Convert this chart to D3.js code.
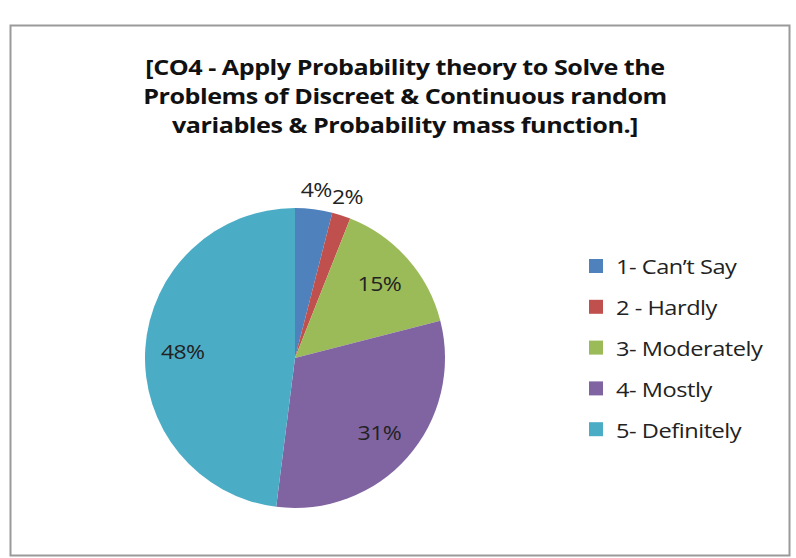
<!DOCTYPE html>
<html><head><meta charset="utf-8">
<script src="https://cdn.jsdelivr.net/npm/d3@7"></script>
<style>body{margin:0;background:#fff;} svg{display:block;}</style>
</head><body><svg id="c" width="796" height="558"></svg>
<script>
const titleLines = ["[CO4 - Apply Probability theory to Solve the","Problems of Discreet & Continuous random","variables & Probability mass function.]"];
const categories = ["1- Can\u2019t Say","2 - Hardly","3- Moderately","4- Mostly","5- Definitely"];
const values = [4, 2, 15, 31, 48];
const colors = ["#4F81BD","#C0504D","#9BBB59","#8064A2","#4BACC6"];

const svg = d3.select("#c");
const font = "'Open Sans', Lato, sans-serif";
svg.append("rect").attr("x",10.5).attr("y",25.5).attr("width",779).attr("height",530)
  .attr("fill","#fff").attr("stroke","#9a9a9a").attr("stroke-width",2);

svg.append("g").attr("transform","translate(405,0) scale(1.17,1)")
  .selectAll("text").data(titleLines).join("text")
  .attr("x",0).attr("y",(d,i)=>75+i*29).attr("text-anchor","middle")
  .attr("font-family",font).attr("font-weight","bold").attr("font-size",21.5).attr("fill","#111")
  .attr("letter-spacing",-0.4)
  .text(d=>d);

const cx=295, cy=358, r=150;
const data = categories.map((c,i)=>({c, v:values[i], color:colors[i]}));
const pie = d3.pie().sort(null).value(d=>d.v);
const arcs = pie(data);
const arc = d3.arc().innerRadius(0).outerRadius(r);
const g = svg.append("g").attr("transform",`translate(${cx},${cy})`);
g.selectAll("path").data(arcs).join("path").attr("d",arc).attr("fill",d=>d.data.color);

const total = d3.sum(values);
g.selectAll("text").data(arcs).join("text")
  .attr("transform",d=>{
    const a=(d.startAngle+d.endAngle)/2;
    const rr = d.data.v/total < 0.05 ? r+20 : r*0.75;
    return `translate(${rr*Math.sin(a)},${-rr*Math.cos(a)}) scale(1.15,1)`;
  })
  .attr("text-anchor","middle").attr("dominant-baseline","central")
  .attr("font-family",font).attr("font-size",20).attr("fill","#222").attr("letter-spacing",-0.5)
  .text(d=>Math.round(d.data.v/total*100)+"%");

const lg = svg.append("g").attr("transform","translate(589,266)");
const items = lg.selectAll("g").data(data).join("g").attr("transform",(d,i)=>`translate(0,${i*40.8})`);
items.append("rect").attr("x",0).attr("y",-7).attr("width",14).attr("height",14).attr("fill",d=>d.color);
items.append("text").attr("transform","translate(27,0) scale(1.15,1)").attr("dominant-baseline","central")
  .attr("font-family",font).attr("font-size",20.5).attr("fill","#222").attr("letter-spacing",-0.4).text(d=>d.c);
</script></body></html>
